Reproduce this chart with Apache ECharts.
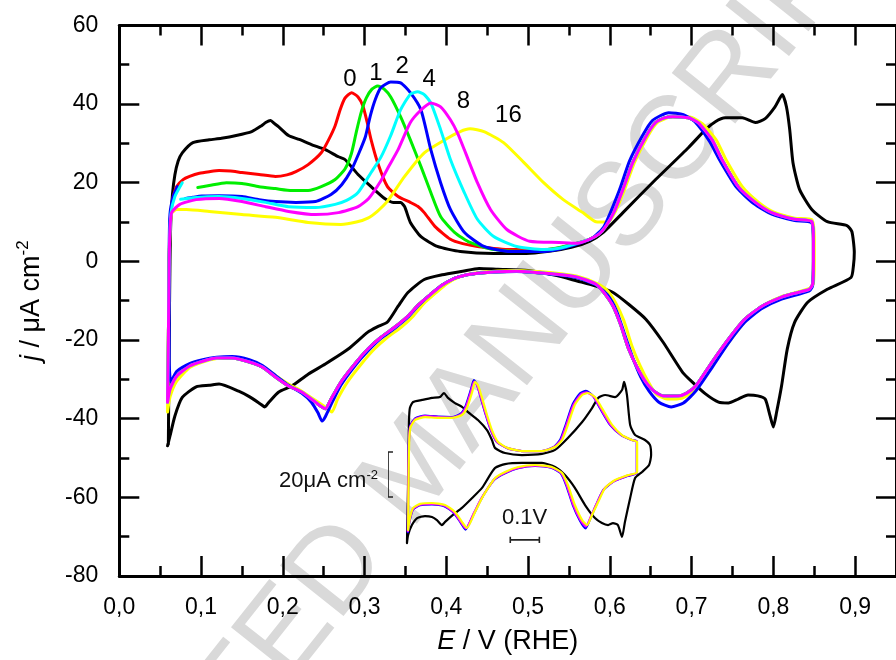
<!DOCTYPE html>
<html><head><meta charset="utf-8">
<script src="https://cdn.jsdelivr.net/npm/echarts@6.0.0/dist/echarts.min.js"></script>
<style>html,body{margin:0;padding:0;background:#fff}#c{width:896px;height:660px}</style>
</head><body><div id="c"></div>
<script>
// ---------- axis ticks ----------
const xMajorTicks = [0, 0.1, 0.2, 0.3, 0.4, 0.5, 0.6, 0.7, 0.8, 0.9];
const yMajorTicks = [-80, -60, -40, -20, 0, 20, 40, 60];

// ---------- curve labels (number of cycles) ----------
const curveLabels = [[0.282, 46.2, '0'], [0.314, 47.8, '1'], [0.346, 49.6, '2'], [0.379, 46.3, '4'], [0.421, 40.7, '8'], [0.476, 37.0, '16']];

// ---------- black (reference) CV ----------
const blackAnodic = [[0.060,-46.5],[0.061,-20],[0.062,0],[0.063,10],[0.065,17],[0.068,22],[0.072,25.5],[0.077,27.6],[0.090,30.2],[0.110,30.9],[0.125,31.3],[0.143,32.0],[0.162,33.0],[0.174,34.5],[0.179,35.3],[0.185,35.8],[0.190,35.0],[0.195,34.2],[0.207,32.0],[0.220,31.0],[0.235,29.7],[0.252,28.4],[0.268,26.6],[0.276,25.9],[0.292,22.1],[0.308,19.0],[0.325,15.9],[0.335,15.0],[0.344,15.0],[0.349,13.9],[0.356,9.9],[0.369,6.3],[0.389,3.8],[0.417,2.5],[0.458,2.0],[0.498,2.0],[0.523,2.5],[0.553,3.6],[0.575,5.1],[0.592,7.4],[0.616,12.4],[0.656,20.8],[0.696,28.9],[0.717,33.5],[0.729,35.5],[0.741,36.5],[0.762,36.5],[0.778,35.3],[0.790,36.3],[0.802,39.3],[0.811,42.4],[0.816,39.3],[0.820,33.5],[0.824,25.1],[0.832,18.3],[0.847,13.2],[0.866,10.1],[0.890,9.1],[0.896,7.6],[0.899,2.3]];
const blackCathodic = [[0.898,-1],[0.895,-4.1],[0.866,-7.1],[0.842,-10.4],[0.826,-15.5],[0.817,-22.3],[0.810,-31.7],[0.804,-38.3],[0.800,-42.1],[0.796,-39.3],[0.790,-35.0],[0.781,-34.2],[0.769,-34.0],[0.757,-35.0],[0.745,-36.0],[0.733,-35.8],[0.717,-33.7],[0.701,-30.7],[0.689,-28.2],[0.665,-20.5],[0.644,-14.7],[0.623,-10.9],[0.604,-7.9],[0.583,-6.3],[0.560,-5.0],[0.535,-3.6],[0.500,-2.3],[0.463,-2.0],[0.440,-1.8],[0.420,-2.5],[0.395,-3.4],[0.373,-4.6],[0.353,-7.9],[0.341,-11.4],[0.328,-15.4],[0.316,-16.6],[0.304,-18.0],[0.280,-22.3],[0.252,-26.1],[0.231,-28.7],[0.211,-31.7],[0.195,-33.2],[0.183,-35.8],[0.178,-37.0],[0.173,-36.3],[0.159,-34.4],[0.146,-33.0],[0.122,-31.2],[0.110,-31.5],[0.094,-31.9],[0.077,-34.6],[0.068,-39.3],[0.062,-44.4],[0.059,-46.9]];

// ---------- coloured CVs: anodic (lower-potential) parts ----------
const redAnodic = [[0.059,-35.8],[0.060,-20],[0.061,0],[0.063,12],[0.066,16.5],[0.070,19.0],[0.078,20.8],[0.086,21.6],[0.098,22.4],[0.110,22.8],[0.122,23.1],[0.136,23.0],[0.150,22.6],[0.171,22.1],[0.191,21.6],[0.205,22.0],[0.216,22.8],[0.231,24.6],[0.247,27.6],[0.256,30.9],[0.264,34.5],[0.270,38.5],[0.276,41.5],[0.284,42.9],[0.292,41.8],[0.298,39.5],[0.303,35.5],[0.308,30.9],[0.316,25.1],[0.328,19.0],[0.341,16.5],[0.356,15.0],[0.365,14.0],[0.373,12.4],[0.386,8.9],[0.405,5.6],[0.420,4.5],[0.438,3.8],[0.478,3.0],[0.519,3.0],[0.540,3.5]];
const greenAnodic = [[0.096,18.8],[0.110,19.3],[0.131,20.0],[0.150,19.8],[0.171,19.0],[0.191,18.5],[0.211,18.0],[0.231,18.0],[0.247,19.0],[0.264,20.8],[0.276,23.5],[0.284,27.5],[0.290,33.0],[0.296,38.0],[0.302,41.5],[0.309,43.8],[0.316,44.6],[0.324,43.8],[0.332,41.8],[0.344,36.8],[0.356,30.9],[0.369,24.1],[0.381,17.5],[0.393,11.4],[0.410,7.4],[0.429,4.8],[0.458,3.0],[0.498,2.5],[0.530,3.2]];
const greenEnd = [[0.060,-20],[0.061,0],[0.062,10],[0.064,14]];
const blueAnodic = [[0.081,16.0],[0.090,16.3],[0.101,16.6],[0.122,16.7],[0.150,16.5],[0.171,15.7],[0.191,15.2],[0.216,15.0],[0.240,15.2],[0.259,17.0],[0.272,19.5],[0.284,23.3],[0.293,27.5],[0.301,31.7],[0.307,37.0],[0.313,41.1],[0.320,44.2],[0.332,45.6],[0.344,45.4],[0.356,42.9],[0.369,38.5],[0.381,28.4],[0.393,20.0],[0.405,13.2],[0.422,7.4],[0.446,3.8],[0.478,2.5],[0.520,2.5],[0.540,3.2]];
const blueAnodicHigh = [[0.560,4.4],[0.578,5.8],[0.593,8.9],[0.612,18.3],[0.624,25.5],[0.640,32.0],[0.652,35.8],[0.672,37.8],[0.690,37.3],[0.704,35.5],[0.722,30.5],[0.735,25.5],[0.755,18.8],[0.776,14.7],[0.798,12.0],[0.826,10.4],[0.847,9.8]];
const cyanAnodic = [[0.075,15.8],[0.090,16.2],[0.122,16.5],[0.150,16.0],[0.179,15.0],[0.207,13.9],[0.240,13.7],[0.264,14.5],[0.278,15.5],[0.292,17.5],[0.308,22.6],[0.320,26.5],[0.332,32.0],[0.344,38.5],[0.356,42.5],[0.365,43.1],[0.373,42.4],[0.381,40.3],[0.393,33.5],[0.405,25.9],[0.422,17.5],[0.438,10.7],[0.458,6.3],[0.486,3.8],[0.519,3.0],[0.540,3.4]];
const cyanEnd = [[0.060,-20],[0.061,0],[0.063,12],[0.068,16.5],[0.077,20.0]];
const magentaAnodic = [[0.059,-35.8],[0.060,-20],[0.061,0],[0.062,8],[0.064,12.4],[0.074,14.5],[0.094,15.7],[0.122,16.0],[0.150,15.2],[0.179,13.9],[0.207,12.7],[0.240,11.9],[0.268,12.4],[0.292,13.9],[0.305,16.0],[0.320,20.5],[0.330,24.3],[0.341,28.4],[0.356,35.3],[0.369,38.5],[0.381,40.3],[0.393,39.3],[0.405,36.0],[0.414,32.5],[0.422,28.4],[0.438,20.0],[0.454,13.2],[0.474,8.1],[0.502,5.1],[0.538,4.8]];
const yellowAnodic = [[0.059,-38.3],[0.060,-20],[0.061,0],[0.062,8],[0.064,12.2],[0.070,13.2],[0.082,13.2],[0.110,12.7],[0.150,11.9],[0.191,11.2],[0.231,9.9],[0.271,9.4],[0.290,10.0],[0.304,11.0],[0.316,12.8],[0.328,15.3],[0.349,21.6],[0.373,27.6],[0.398,30.9],[0.417,33.0],[0.429,33.7],[0.446,33.0],[0.470,30.2],[0.495,25.1],[0.519,20.0],[0.543,15.7],[0.567,12.4],[0.583,10.1],[0.598,10.0],[0.607,12.8],[0.618,18.3],[0.630,25.1],[0.646,31.7],[0.658,35.3],[0.680,37.0],[0.700,36.6],[0.713,35.0],[0.730,30.9],[0.742,25.9],[0.762,19.0],[0.782,15.0],[0.800,12.6],[0.826,11.0],[0.847,10.6]];

// ---------- coloured CVs: shared anodic high-potential part ----------
const commonAnodicHigh = [[0.560,4.6],[0.575,5.6],[0.587,7.0],[0.595,8.9],[0.605,12.5],[0.616,18.3],[0.628,25.1],[0.644,31.7],[0.656,35.3],[0.667,36.5],[0.677,36.8],[0.696,36.5],[0.708,35.3],[0.725,30.9],[0.737,25.9],[0.757,19.0],[0.778,15.0],[0.798,12.4],[0.826,10.7],[0.847,10.1]];

// ---------- coloured CVs: cathodic sweeps ----------
const commonCathodic = [[0.849,5.0],[0.849,0],[0.848,-5.8],[0.844,-7.1],[0.826,-8.1],[0.810,-9.1],[0.786,-11.4],[0.765,-14.7],[0.745,-19.8],[0.725,-25.6],[0.705,-31.7],[0.694,-33.5],[0.684,-34.2],[0.665,-34.2],[0.654,-33.0],[0.644,-30.7],[0.633,-26.8],[0.623,-22.3],[0.613,-16.0],[0.604,-11.4],[0.593,-8.0],[0.583,-5.8],[0.560,-4.0],[0.535,-3.3],[0.486,-2.5],[0.438,-3.0],[0.414,-4.0],[0.395,-6.0],[0.380,-8.5],[0.366,-11.0],[0.353,-13.9],[0.337,-16.7],[0.320,-19.3],[0.304,-22.3],[0.288,-26.1],[0.271,-30.7],[0.259,-35.0],[0.252,-37.5],[0.246,-36.8],[0.240,-35.8],[0.223,-33.2],[0.207,-31.7],[0.191,-29.4],[0.175,-26.9],[0.159,-25.6],[0.138,-24.6],[0.119,-24.6],[0.102,-25.4],[0.086,-26.6],[0.070,-29.2],[0.062,-32.5],[0.059,-35.8]];
const blueCathodic = [[0.849,5],[0.849,0],[0.848,-6.2],[0.844,-7.5],[0.810,-9.6],[0.786,-12.0],[0.765,-15.5],[0.745,-20.8],[0.725,-27.0],[0.705,-33.0],[0.690,-36.0],[0.675,-37.0],[0.660,-35.8],[0.648,-33.0],[0.638,-29.5],[0.628,-24.5],[0.618,-18.5],[0.608,-12.5],[0.597,-8.5],[0.583,-6.0],[0.560,-4.2],[0.535,-3.4],[0.486,-2.6],[0.438,-3.0],[0.414,-4.0],[0.395,-6.0],[0.380,-8.5],[0.366,-11.2],[0.353,-14.2],[0.337,-17.0],[0.320,-19.6],[0.304,-22.8],[0.288,-26.6],[0.271,-31.5],[0.260,-36.0],[0.252,-39.5],[0.248,-40.6],[0.243,-38.5],[0.235,-35.8],[0.223,-33.5],[0.207,-31.5],[0.191,-29.0],[0.175,-26.5],[0.159,-25.0],[0.138,-24.2],[0.119,-24.4],[0.102,-25.0],[0.086,-26.0],[0.070,-28.0],[0.063,-30.7],[0.061,-25],[0.061,0],[0.062,12],[0.066,16.5],[0.071,19.0]];
const yellowCathodic = [[0.850,5],[0.850,0],[0.849,-5.5],[0.845,-6.8],[0.812,-8.8],[0.790,-11.0],[0.770,-14.2],[0.750,-19.3],[0.730,-25.0],[0.710,-31.0],[0.698,-33.5],[0.688,-34.8],[0.670,-35.0],[0.657,-33.8],[0.648,-31.0],[0.637,-26.5],[0.627,-21.5],[0.617,-15.0],[0.607,-10.5],[0.595,-7.0],[0.583,-5.5],[0.560,-3.8],[0.535,-3.0],[0.486,-2.3],[0.440,-2.8],[0.418,-3.8],[0.401,-5.6],[0.386,-8.2],[0.372,-10.8],[0.360,-13.8],[0.345,-16.7],[0.328,-19.3],[0.312,-22.3],[0.296,-26.1],[0.279,-30.7],[0.267,-35.0],[0.260,-38.3],[0.253,-37.2],[0.246,-36.2],[0.223,-33.0],[0.207,-31.2],[0.191,-29.0],[0.175,-26.6],[0.159,-25.3],[0.138,-24.5],[0.119,-24.7],[0.102,-25.6],[0.086,-27.0],[0.070,-30.5],[0.062,-34.5],[0.059,-38.3]];

// ---------- inset CVs (own axes: V and uA cm-2) ----------
const insetBlack = [[0.060,-37.8],[0.064,-10],[0.066,8],[0.067,16.9],[0.070,22.2],[0.081,24.9],[0.112,25.8],[0.146,26.7],[0.174,27.1],[0.187,28.9],[0.201,26.7],[0.225,24.4],[0.249,22.7],[0.270,20.4],[0.304,16.9],[0.335,12.4],[0.352,8.0],[0.363,4.4],[0.397,2.2],[0.455,1.3],[0.524,1.8],[0.569,3.6],[0.613,8.9],[0.662,16.0],[0.696,22.2],[0.717,26.7],[0.741,28.0],[0.775,27.1],[0.799,30.2],[0.806,33.8],[0.816,28.0],[0.827,14.7],[0.844,10.2],[0.878,8.0],[0.895,5.8],[0.899,1.3],[0.892,-3.1],[0.868,-6.2],[0.844,-8.9],[0.827,-17.8],[0.809,-28.4],[0.799,-35.1],[0.785,-29.8],[0.768,-28.9],[0.751,-29.8],[0.730,-28.9],[0.706,-26.7],[0.672,-20.9],[0.637,-13.3],[0.603,-7.6],[0.569,-4.0],[0.524,-2.2],[0.455,-2.2],[0.397,-2.7],[0.363,-4.4],[0.339,-8.9],[0.318,-13.3],[0.284,-17.8],[0.249,-22.2],[0.218,-25.3],[0.191,-28.4],[0.180,-29.8],[0.163,-27.6],[0.146,-26.2],[0.122,-25.8],[0.095,-26.7],[0.077,-29.8],[0.064,-34.2],[0.060,-37.8]];
const insetBlue = [[0.063,-33.0],[0.065,-5],[0.067,8],[0.071,14.2],[0.088,17.6],[0.122,18.9],[0.167,18.4],[0.215,18.2],[0.246,19.8],[0.262,23.3],[0.280,30.5],[0.290,34.6],[0.300,32.8],[0.314,26.7],[0.331,19.1],[0.348,12.4],[0.369,7.1],[0.405,4.4],[0.455,3.1],[0.524,3.1],[0.565,4.9],[0.587,8.2],[0.606,15.0],[0.630,24.0],[0.655,28.8],[0.675,29.8],[0.699,27.6],[0.723,22.2],[0.758,14.7],[0.796,10.2],[0.833,8.0],[0.850,7.4],[0.850,-6.6],[0.818,-8.0],[0.771,-10.4],[0.735,-14.2],[0.710,-20.9],[0.690,-27.0],[0.674,-31.3],[0.655,-28.0],[0.630,-20.9],[0.607,-12.0],[0.588,-6.7],[0.555,-4.3],[0.500,-3.5],[0.442,-4.5],[0.397,-6.8],[0.360,-9.6],[0.335,-14.0],[0.313,-18.8],[0.289,-25.0],[0.261,-31.8],[0.245,-28.8],[0.221,-24.4],[0.188,-21.4],[0.146,-20.6],[0.105,-21.0],[0.081,-22.8],[0.070,-27.4],[0.063,-33.0]];
const insetMagenta = [[0.063,-32.5],[0.065,-5],[0.067,8],[0.071,13.8],[0.088,17.3],[0.122,18.6],[0.167,18.2],[0.215,18.0],[0.247,19.5],[0.263,22.8],[0.281,30.0],[0.291,34.0],[0.301,32.4],[0.315,26.7],[0.332,19.1],[0.349,12.4],[0.370,7.1],[0.405,4.4],[0.455,3.1],[0.524,3.1],[0.566,4.9],[0.589,8.0],[0.608,14.7],[0.632,23.6],[0.657,28.2],[0.677,29.2],[0.701,27.3],[0.725,22.2],[0.760,14.7],[0.797,10.2],[0.833,8.0],[0.850,7.3],[0.850,-6.4],[0.818,-7.8],[0.772,-10.2],[0.737,-13.8],[0.712,-20.2],[0.692,-26.0],[0.675,-30.4],[0.657,-27.8],[0.632,-20.9],[0.609,-12.0],[0.590,-6.7],[0.556,-4.2],[0.500,-3.4],[0.442,-4.4],[0.397,-6.6],[0.361,-9.4],[0.336,-13.8],[0.314,-18.4],[0.290,-24.5],[0.262,-31.3],[0.246,-28.6],[0.222,-24.2],[0.189,-21.2],[0.146,-20.4],[0.105,-20.8],[0.081,-22.6],[0.070,-27.0],[0.063,-32.5]];
const insetYellow = [[0.064,-32.0],[0.066,-5],[0.068,8],[0.072,13.5],[0.088,16.9],[0.122,18.2],[0.167,17.8],[0.215,17.8],[0.249,19.1],[0.266,22.2],[0.284,29.3],[0.294,33.8],[0.304,32.4],[0.318,26.7],[0.335,19.1],[0.352,12.4],[0.373,7.1],[0.407,4.4],[0.455,3.1],[0.524,3.1],[0.569,4.9],[0.593,8.0],[0.613,14.7],[0.637,23.6],[0.662,28.0],[0.682,28.9],[0.706,27.1],[0.730,22.2],[0.765,14.7],[0.799,10.2],[0.833,8.0],[0.851,7.1],[0.851,-6.2],[0.820,-7.6],[0.775,-9.8],[0.741,-13.3],[0.717,-19.6],[0.696,-25.3],[0.679,-29.8],[0.662,-27.6],[0.637,-20.9],[0.613,-12.0],[0.593,-6.7],[0.558,-4.0],[0.500,-3.1],[0.442,-4.0],[0.397,-6.2],[0.363,-8.9],[0.339,-13.3],[0.318,-17.8],[0.294,-24.0],[0.266,-31.1],[0.249,-28.4],[0.225,-24.0],[0.191,-20.9],[0.146,-20.0],[0.105,-20.4],[0.081,-22.2],[0.070,-26.7],[0.064,-32.0]];

// inset scale bars (in inset units) and their captions
const scaleBarCurrent = [[-0.005, 2.7], [-0.005, -17.3]];
const scaleBarPotential = [[0.415, -36.4], [0.515, -36.4]];
const scaleCaptions = [[-0.038, -10.2, '20μA cm{s|-2}'], [0.464, -26.7, '0.1V']];

// ---------------------------------------------------------------
const FONT = 'Liberation Sans, Arial, sans-serif';
const chart = echarts.init(document.getElementById('c'), null, {renderer: 'canvas'});

function cv(name, color, data, z, xi, yi, w) {
  return {type: 'line', name, data, xAxisIndex: xi || 0, yAxisIndex: yi || 0, z: z,
    symbol: 'none', showSymbol: false, smooth: 0.2, silent: true, animation: false, clip: false,
    lineStyle: {color, width: w || 3, cap: 'round', join: 'round'}};
}
function seg(data, w) {
  return {type: 'line', data, xAxisIndex: 4, yAxisIndex: 2, symbol: 'none', silent: true, clip: false,
    animation: false, z: 20, lineStyle: {color: '#222', width: w || 1.6}};
}

const xFmt = v => v.toFixed(1).replace('.', ',');

const tickMajor = {show: true, inside: true, length: 20, lineStyle: {color: '#000', width: 2.5}};
const tickMinor = {show: true, inside: true, length: 10, lineStyle: {color: '#000', width: 2.5}};
const axLine = {show: true, onZero: false, lineStyle: {color: '#000', width: 3}};

const option = {
  animation: false,
  backgroundColor: '#fff',
  graphic: [{
    type: 'text', z: -10, silent: true, x: 418, y: 470, rotation: 51.5 * Math.PI / 180,
    style: {text: 'ACCEPTED MANUSCRIPT', font: '118px "Liberation Sans"', fill: '#d9d9d9',
      textAlign: 'center', textVerticalAlign: 'middle'}
  }],
  grid: [
    {left: 119.3, right: -6, top: 25.4, bottom: 82.6, containLabel: false},
    {left: 389.5, right: 215.5, top: 368, bottom: 100.75, containLabel: false}
  ],
  xAxis: [
    {type: 'value', gridIndex: 0, position: 'bottom', min: 0, max: 0.95, interval: 0.1,
      axisLine: axLine, axisTick: tickMajor, splitLine: {show: false},
      axisLabel: {show: true, margin: 20, fontSize: 23, fontFamily: FONT, color: '#000', formatter: xFmt, showMaxLabel: false},
      name: '{i|E} / V (RHE)', nameLocation: 'middle', nameGap: 52,
      nameTextStyle: {fontSize: 27, fontFamily: FONT, color: '#000', rich: {i: {fontStyle: 'italic', fontSize: 27, fontFamily: FONT, color: '#000'}}}},
    {type: 'value', gridIndex: 0, position: 'bottom', min: 0, max: 0.95, interval: 0.05,
      axisLine: {show: false, onZero: false}, axisTick: tickMinor, axisLabel: {show: false}, splitLine: {show: false}},
    {type: 'value', gridIndex: 0, position: 'top', min: 0, max: 0.95, interval: 0.1,
      axisLine: axLine, axisTick: tickMajor, axisLabel: {show: false}, splitLine: {show: false}},
    {type: 'value', gridIndex: 0, position: 'top', min: 0, max: 0.95, interval: 0.05,
      axisLine: {show: false, onZero: false}, axisTick: tickMinor, axisLabel: {show: false}, splitLine: {show: false}},
    {type: 'value', gridIndex: 1, min: 0, max: 1, show: false}
  ],
  yAxis: [
    {type: 'value', gridIndex: 0, position: 'left', min: yMajorTicks[0], max: yMajorTicks[yMajorTicks.length - 1], interval: 20,
      axisLine: axLine, axisTick: tickMajor, splitLine: {show: false},
      minorTick: {show: true, splitNumber: 2, length: 10, lineStyle: {color: '#000', width: 2.5}},
      axisLabel: {show: true, margin: 21, fontSize: 23, fontFamily: FONT, color: '#000'},
      name: '{i|j} / μA cm{s|-2}', nameLocation: 'middle', nameGap: 72, nameRotate: 90,
      nameTextStyle: {fontSize: 27, fontFamily: FONT, color: '#000', lineHeight: 32,
        rich: {i: {fontStyle: 'italic', fontSize: 27, fontFamily: FONT, color: '#000', lineHeight: 32},
               s: {fontSize: 17, fontFamily: FONT, color: '#000', verticalAlign: 'top', lineHeight: 32}}}},
    {type: 'value', gridIndex: 0, position: 'right', min: -80, max: 60, interval: 20,
      axisLine: axLine, axisTick: tickMajor, splitLine: {show: false},
      minorTick: {show: true, splitNumber: 2, length: 10, lineStyle: {color: '#000', width: 2.5}},
      axisLabel: {show: false}},
    {type: 'value', gridIndex: 1, min: -45, max: 40, show: false}
  ],
  series: [
    cv('black', '#000000', blackAnodic.concat(blackCathodic), 3),
    cv('0', '#ff0000', redAnodic.concat(commonAnodicHigh, commonCathodic), 4),
    cv('1', '#00ee00', greenAnodic.concat(commonAnodicHigh, commonCathodic, greenEnd), 5),
    cv('16', '#ffff00', yellowAnodic.concat(yellowCathodic), 6),
    cv('2', '#0000ff', blueAnodic.concat(blueAnodicHigh, blueCathodic), 7),
    cv('4', '#00ffff', cyanAnodic.concat(commonAnodicHigh, commonCathodic, cyanEnd), 8),
    cv('8', '#ff00ff', magentaAnodic.concat(commonAnodicHigh, commonCathodic), 9),
    {type: 'scatter', xAxisIndex: 0, yAxisIndex: 0, data: curveLabels, symbolSize: 1, silent: true, z: 12,
      itemStyle: {color: 'rgba(0,0,0,0)', opacity: 1},
      label: {show: true, position: 'inside', formatter: p => p.value[2], fontSize: 24, fontFamily: FONT,
        color: '#000', opacity: 1, textBorderWidth: 0}},
    // inset
    cv('inset black', '#000000', insetBlack, 13, 4, 2, 2.2),
    cv('inset blue', '#0000ff', insetBlue, 14, 4, 2, 2.2),
    cv('inset magenta', '#ff00ff', insetMagenta, 15, 4, 2, 2.2),
    cv('inset yellow', '#ffff00', insetYellow, 16, 4, 2, 2.2),
    seg(scaleBarCurrent),
    seg([[scaleBarCurrent[0][0] - 0.017, scaleBarCurrent[0][1]], [scaleBarCurrent[0][0] + 0.017, scaleBarCurrent[0][1]]]),
    seg([[scaleBarCurrent[1][0] - 0.017, scaleBarCurrent[1][1]], [scaleBarCurrent[1][0] + 0.017, scaleBarCurrent[1][1]]]),
    seg(scaleBarPotential),
    seg([[scaleBarPotential[0][0], scaleBarPotential[0][1] + 1.4], [scaleBarPotential[0][0], scaleBarPotential[0][1] - 1.4]]),
    seg([[scaleBarPotential[1][0], scaleBarPotential[1][1] + 1.4], [scaleBarPotential[1][0], scaleBarPotential[1][1] - 1.4]]),
    {type: 'scatter', xAxisIndex: 4, yAxisIndex: 2, symbolSize: 1, silent: true, z: 21, clip: false,
      itemStyle: {color: 'rgba(0,0,0,0)', opacity: 1},
      data: [
        {value: scaleCaptions[0], label: {position: 'left', distance: 0}},
        {value: scaleCaptions[1], label: {position: 'inside'}}
      ],
      label: {show: true, formatter: p => p.value[2], opacity: 1, textBorderWidth: 0,
        fontSize: 22, fontFamily: FONT, color: '#111', lineHeight: 24,
        rich: {s: {fontSize: 13, fontFamily: FONT, color: '#111', verticalAlign: 'top', lineHeight: 24}}}}
  ]
};
chart.setOption(option);
</script></body></html>
